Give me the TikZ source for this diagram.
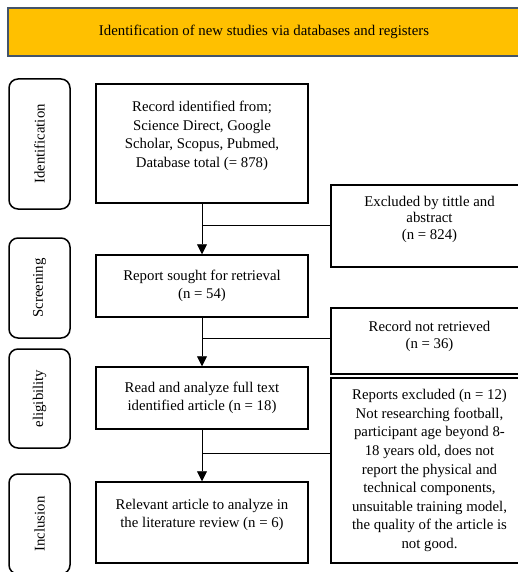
\documentclass[tikz,border=0pt]{standalone}
\usepackage{fontspec}
\setmainfont{Liberation Serif}
\usetikzlibrary{arrows.meta}

\definecolor{bannerfill}{HTML}{FFC000}
\definecolor{bannerline}{HTML}{44546A}

\begin{document}
\begin{tikzpicture}[x=1pt, y=-1pt, >={Triangle[length=10pt,width=10pt]},
  font=\fontsize{14.8}{18.6}\selectfont,
  stagebox/.style={draw, line width=1.5pt, rounded corners=9pt, minimum width=61pt, inner sep=0pt},
  flowbox/.style={draw, line width=1.5pt, minimum width=212pt, align=center, inner sep=0pt},
  sidebox/.style={draw, line width=1.5pt, minimum width=197pt, align=center, inner sep=0pt},
  link/.style={line width=0.8pt}]

  \useasboundingbox (0,0) rectangle (518,572);
  \clip (0,0) rectangle (518,572);

  % Banner across the top
  \node[draw=bannerline, fill=bannerfill, line width=1.5pt, minimum width=512pt, minimum height=48pt] (banner) at (264,32)
    {Identification of new studies via databases and registers};

  % Stage labels on the left
  \node[stagebox, minimum height=130pt] (stageid) at (39.5,144) {\rotatebox{90}{Identification}};
  \node[stagebox, minimum height=100pt] (stagescr) at (39.5,288) {\rotatebox{90}{Screening}};
  \node[stagebox, minimum height=99pt] (stageel) at (39.5,398.5) {\rotatebox{90}{eligibility}};
  \node[stagebox, minimum height=100pt] (stageinc) at (39.5,524) {\rotatebox{90}{Inclusion}};

  % Main flow boxes
  \node[flowbox, minimum height=119pt] (records) at (202,143.5)
    {Record identified from;\\ Science Direct, Google\\ Scholar, Scopus, Pubmed,\\ Database total (= 878)\\ \mbox{}};
  \node[flowbox, minimum height=62pt] (sought) at (202,286)
    {Report sought for retrieval\\ (n = 54)};
  \node[flowbox, minimum height=62pt] (fulltext) at (202,398)
    {Read and analyze full text\\ identified article (n = 18)};
  \node[flowbox, minimum height=81pt] (included) at (202,522.5)
    {Relevant article to analyze in\\ the literature review (n = 6)\\ \mbox{}};

  % Exclusion boxes on the right
  \node[sidebox, minimum height=82pt, font=\fontsize{14.8}{16.5}\selectfont] (excltitle) at (429.5,226)
    {Excluded by tittle and\\ abstract\\ (n = 824)\\ \mbox{}};
  \node[sidebox, minimum height=66pt, font=\fontsize{14.8}{16.5}\selectfont] (notretr) at (429.5,341)
    {Record not retrieved\\ (n = 36)\\[-4pt] \mbox{}};
  \node[sidebox, minimum height=185pt] (exclreports) at (429.5,470.5)
    {Reports excluded (n = 12)\\ Not researching football,\\ participant age beyond 8-\\ 18 years old, does not\\ report the physical and\\ technical components,\\ unsuitable training model,\\ the quality of the article is\\ not good.};

  % Arrows down the middle
  \draw[link, ->] (records) -- (sought);
  \draw[link, ->] (sought) -- (fulltext);
  \draw[link, ->] (fulltext) -- (included);

  % Branches to the exclusion boxes
  \coordinate (split1) at (202,225);
  \coordinate (split2) at (202,338);
  \coordinate (split3) at (202,453);
  \draw[link] (split1) -- (split1 -| excltitle.west);
  \draw[link] (split2) -- (split2 -| notretr.west);
  \draw[link] (split3) -- (split3 -| exclreports.west);

\end{tikzpicture}
\end{document}
